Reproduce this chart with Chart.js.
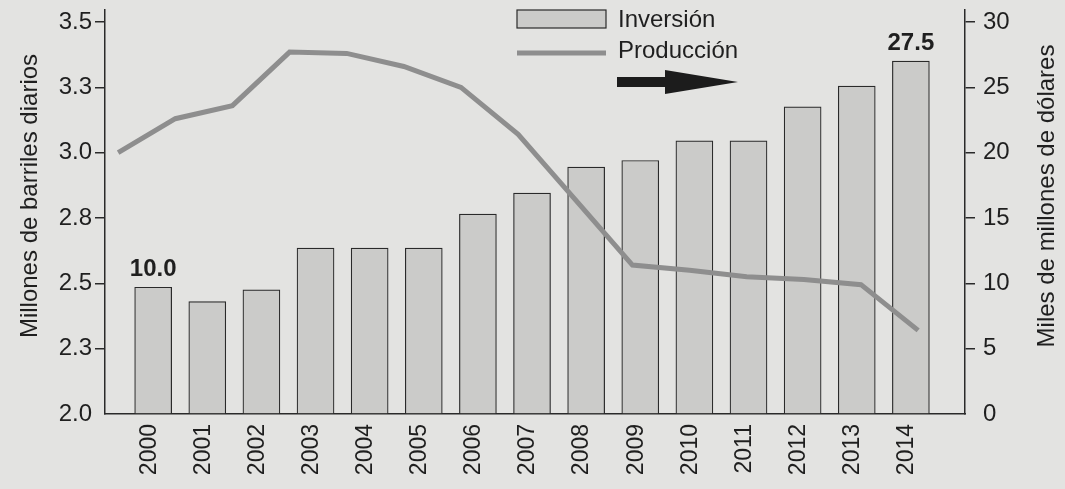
<!DOCTYPE html>
<html>
<head>
<meta charset="utf-8">
<script src="https://cdn.jsdelivr.net/npm/chart.js@4.4.1/dist/chart.umd.min.js"></script>
<style>
  body { margin: 0; background: #e3e3e1; }
  #grafico { display: block; }
</style>
</head>
<body>
<canvas id="grafico" width="1065" height="489"></canvas>
<script>
// dados do grafico
const anios = ["2000", "2001", "2002", "2003", "2004", "2005", "2006", "2007", "2008", "2009", "2010", "2011", "2012", "2013", "2014"];

// inversion (miles de millones de dolares) - eixo direito
const inversion = [9.7, 8.6, 9.5, 12.7, 12.7, 12.7, 15.3, 16.9, 18.9, 19.4, 20.9, 20.9, 23.5, 25.1, 27.0];

// produccion (millones de barriles diarios) - eixo esquerdo
const produccion = [3.0, 3.13, 3.18, 3.385, 3.38, 3.33, 3.25, 3.07, 2.82, 2.57, 2.55, 2.525, 2.515, 2.495, 2.32];

// rotulos em cima das barras
const etiquetas = ["10.0", "", "", "", "", "", "", "", "", "", "", "", "", "", "27.5"];

// ticks dos eixos
const ticksIzq = [2.0, 2.25, 2.5, 2.75, 3.0, 3.25, 3.5];
const rotulosIzq = ["2.0", "2.3", "2.5", "2.8", "3.0", "3.3", "3.5"];
const ticksDer = [0, 5, 10, 15, 20, 25, 30];

const tituloIzq = "Millones de barriles diarios";
const tituloDer = "Miles de millones de dólares";

const fonte = "'Liberation Sans', Arial, sans-serif";
const corTexto = "#1f1f1f";
const corEixo = "#2a2a2a";
const corBarra = "#cbcbc9";
const corLinha = "#8e8e8e";

// plugin pra legenda, seta, titulos e rotulos
const extras = {
  id: "extras",
  afterDatasetsDraw(chart) {
    const ctx = chart.ctx;
    const dpr = chart.currentDevicePixelRatio;
    ctx.save();

    // rotulos das barras
    const metaBarras = chart.getDatasetMeta(0);
    ctx.font = "bold 24px " + fonte;
    ctx.fillStyle = corTexto;
    ctx.textAlign = "center";
    ctx.textBaseline = "alphabetic";
    for (let i = 0; i < etiquetas.length; i++) {
      if (etiquetas[i] != "") {
        const barra = metaBarras.data[i];
        ctx.fillText(etiquetas[i], barra.x, barra.y - 11);
      }
    }

    // titulos dos eixos
    ctx.font = "24px " + fonte;
    ctx.textBaseline = "middle";
    ctx.translate(30, 196);
    ctx.rotate(-Math.PI / 2);
    ctx.fillText(tituloIzq, 0, 0);
    ctx.setTransform(dpr, 0, 0, dpr, 0, 0);
    ctx.translate(1047, 196);
    ctx.rotate(-Math.PI / 2);
    ctx.fillText(tituloDer, 0, 0);
    ctx.setTransform(dpr, 0, 0, dpr, 0, 0);

    // legenda
    const dsBarra = chart.data.datasets[0];
    const dsLinha = chart.data.datasets[1];
    ctx.fillStyle = dsBarra.backgroundColor;
    ctx.fillRect(517, 10, 89, 18);
    ctx.strokeStyle = corEixo;
    ctx.lineWidth = 1.2;
    ctx.strokeRect(517, 10, 89, 18);

    ctx.strokeStyle = dsLinha.borderColor;
    ctx.lineWidth = dsLinha.borderWidth;
    ctx.beginPath();
    ctx.moveTo(517, 53);
    ctx.lineTo(606, 53);
    ctx.stroke();

    ctx.fillStyle = corTexto;
    ctx.textAlign = "left";
    ctx.fillText(dsBarra.label, 618, 20);
    ctx.fillText(dsLinha.label, 618, 51);

    // seta
    ctx.fillStyle = "#1c1c1c";
    ctx.beginPath();
    ctx.moveTo(617, 77);
    ctx.lineTo(665, 77);
    ctx.lineTo(665, 70);
    ctx.lineTo(738, 82);
    ctx.lineTo(665, 94);
    ctx.lineTo(665, 87);
    ctx.lineTo(617, 87);
    ctx.closePath();
    ctx.fill();

    ctx.restore();
  },
};

// tira o espaço extra que o chart.js reserva pros rotulos das pontas
function semPadding(scale) {
  scale.paddingTop = 0;
  scale.paddingBottom = 0;
  scale.paddingLeft = 0;
  scale.paddingRight = 0;
}

new Chart(document.getElementById("grafico"), {
  data: {
    datasets: [
      {
        type: "bar",
        label: "Inversión",
        data: inversion.map((v, i) => ({ x: i, y: v })),
        xAxisID: "x",
        yAxisID: "y1",
        backgroundColor: corBarra,
        borderColor: corEixo,
        borderWidth: 1.2,
        barThickness: 37,
        grouped: false,
        order: 2,
      },
      {
        type: "line",
        label: "Producción",
        data: produccion.map((v, i) => ({ x: i, y: v })),
        xAxisID: "x2",
        yAxisID: "y",
        borderColor: corLinha,
        borderWidth: 5,
        pointRadius: 0,
        tension: 0,
        order: 1,
      },
    ],
  },
  options: {
    responsive: false,
    animation: false,
    layout: { padding: { top: 10 } },
    plugins: {
      legend: { display: false },
      tooltip: { enabled: false },
    },
    scales: {
      x: {
        type: "linear",
        position: "bottom",
        offset: false,
        min: -0.89,
        max: 15.0,
        afterBuildTicks: (scale) => {
          scale.ticks = anios.map((a, i) => ({ value: i }));
        },
        afterFit: (scale) => {
          scale.height = 75;
          semPadding(scale);
        },
        ticks: {
          callback: (v) => anios[v],
          minRotation: 90,
          maxRotation: 90,
          padding: 10,
          labelOffset: -4,
          color: corTexto,
          font: { family: fonte, size: 23 },
        },
        grid: { display: true, drawOnChartArea: false, drawTicks: false },
        border: { color: corEixo, width: 1.5 },
      },
      x2: {
        type: "linear",
        display: false,
        offset: false,
        min: -0.23,
        max: 14.82,
      },
      y: {
        type: "linear",
        position: "left",
        min: 2.0,
        max: 3.546,
        afterBuildTicks: (scale) => {
          scale.ticks = ticksIzq.map((v) => ({ value: v }));
        },
        afterFit: (scale) => {
          scale.width = 105;
          semPadding(scale);
        },
        ticks: {
          callback: (v) => rotulosIzq[ticksIzq.indexOf(v)],
          padding: 3,
          color: corTexto,
          font: { family: fonte, size: 24 },
        },
        grid: {
          drawOnChartArea: false,
          tickLength: 10,
          lineWidth: 1.5,
          color: (c) => (c.tick && c.tick.value == 2 ? "rgba(0,0,0,0)" : corEixo),
        },
        border: { color: corEixo, width: 1.5 },
      },
      y1: {
        type: "linear",
        position: "right",
        min: 0,
        max: 30.918,
        afterBuildTicks: (scale) => {
          scale.ticks = ticksDer.map((v) => ({ value: v }));
        },
        afterFit: (scale) => {
          scale.width = 100;
          semPadding(scale);
        },
        ticks: {
          padding: 8,
          color: corTexto,
          font: { family: fonte, size: 24 },
        },
        grid: {
          drawOnChartArea: false,
          tickLength: 10,
          lineWidth: 1.5,
          color: (c) => (c.tick && c.tick.value == 0 ? "rgba(0,0,0,0)" : corEixo),
        },
        border: { color: corEixo, width: 1.5 },
      },
    },
  },
  plugins: [extras],
});
</script>
</body>
</html>
